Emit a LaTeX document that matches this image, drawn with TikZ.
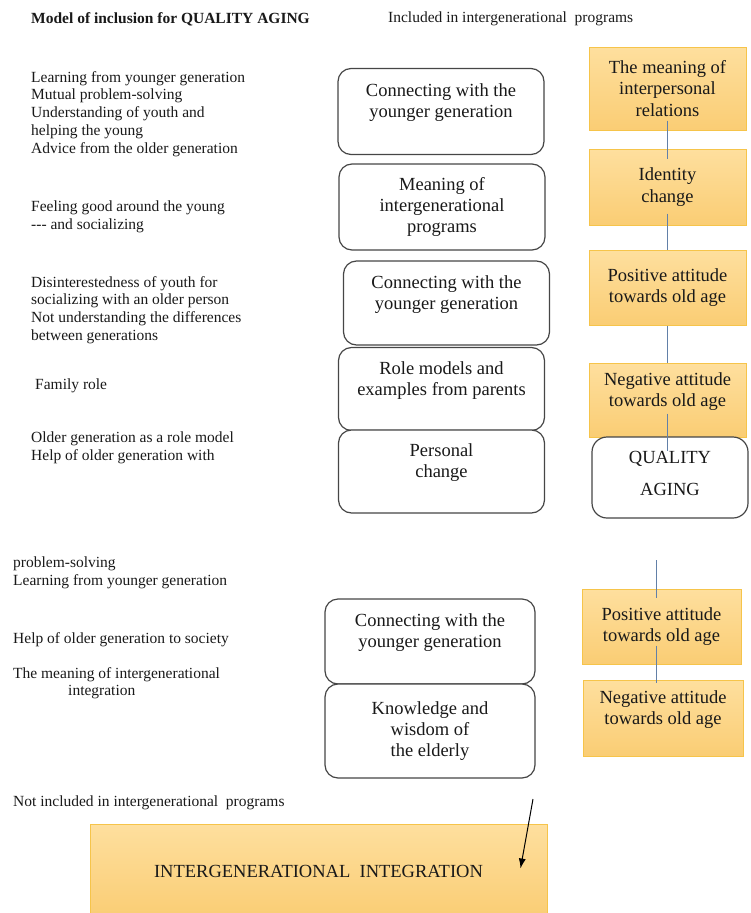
\documentclass[tikz,border=0pt]{standalone}
\usepackage{fontspec}
\setmainfont{Liberation Serif}
\usetikzlibrary{calc,arrows.meta}

\definecolor{ortop}{RGB}{254,223,158}
\definecolor{orbot}{RGB}{250,205,116}
\definecolor{oredge}{RGB}{246,196,74}
\definecolor{boxedge}{RGB}{70,70,70}
\definecolor{linkblue}{RGB}{98,128,168}
\definecolor{ink}{RGB}{25,25,25}

\begin{document}
\begin{tikzpicture}[x=1pt,y=-1pt,
   note/.style={anchor=north west,align=left,inner sep=0pt,text=ink,
                font=\fontsize{15.5}{17.8}\selectfont},
   head/.style={anchor=west,inner sep=0pt,text=ink,
                font=\fontsize{15.5}{18}\selectfont},
   gbox/.style={draw=boxedge,line width=1.2pt,rounded corners=13pt,fill=white,
                align=center,text=ink,minimum width=206pt,minimum height=86pt,
                inner sep=0pt,font=\fontsize{18.5}{21.3}\selectfont},
   obox/.style={draw=oredge,line width=1pt,top color=ortop,bottom color=orbot,
                align=center,text=ink,minimum width=157pt,inner sep=0pt,
                font=\fontsize{18.5}{21.3}\selectfont},
   link/.style={draw=linkblue,line width=1pt}]
  \useasboundingbox (0,0) rectangle (750,913);

  % headings
  \node[head,font=\bfseries\fontsize{15.5}{18}\selectfont] (title) at (31,19)
       {Model of inclusion for QUALITY AGING};
  \node[head] (incl) at (388,19) {Included in intergenerational\ \ programs};

  % left column notes
  \node[note] (na) at (31,71) {Learning from younger generation\\Mutual problem-solving\\
       Understanding of youth and\\helping the young\\Advice from the older generation};
  \node[note] (nb) at (31,201) {Feeling good around the young\\-{}-{}- and socializing};
  \node[note] (nc) at (31,276) {Disinterestedness of youth for\\socializing with an older person\\
       Not understanding the differences\\between generations};
  \node[note] (nd) at (35,379) {Family role};
  \node[note] (ne) at (31,432) {Older generation as a role model\\Help of older generation with};
  \node[note] (nf) at (13,557) {problem-solving\\Learning from younger generation};
  \node[note] (ng) at (13,632) {Help of older generation to society};
  \node[note] (nh) at (13,667) {The meaning of intergenerational\\\hspace*{55pt}integration};
  \node[note] (ni) at (13,796) {Not included in intergenerational\ \ programs};

  % middle column
  \node[gbox] (conn1) at (441,111.5) {Connecting with the\\younger generation\\\mbox{}};
  \node[gbox] (mean) at (442,207) {Meaning of\\intergenerational\\programs};
  \node[gbox,minimum height=84pt] (conn2) at (446.5,303)
       {Connecting with the\\younger generation\\\mbox{}};
  \node[gbox,minimum height=83pt] (role) at (441.5,389)
       {Role models and\\examples from parents\\\mbox{}};
  \node[gbox,minimum height=83pt] (pers) at (441.5,471.5) {Personal\\change\\\mbox{}};
  \node[gbox,minimum width=210pt,minimum height=85pt] (conn3) at (430,641.5)
       {Connecting with the\\younger generation\\\mbox{}};
  \node[gbox,minimum width=210pt,minimum height=94pt] (know) at (430,731)
       {Knowledge and\\wisdom of\\the elderly};

  % right column
  \node[obox,minimum height=83pt] (o1) at (667.5,88.5) {The meaning of\\interpersonal\\relations};
  \node[obox,minimum height=76pt] (o2) at (667.5,187) {Identity\\change};
  \node[obox,minimum height=75pt] (o3) at (667.5,287.5) {Positive attitude\\towards old age};
  \node[obox,minimum height=74pt] (o4) at (667.5,400) {Negative attitude\\towards old age\\\mbox{}};
  \node[gbox,rounded corners=15pt,minimum width=156pt,minimum height=81pt] (qa) at (670,477.5)
       {QUALITY\\[11pt]AGING\\[-13pt]\mbox{}};
  \node[obox,minimum width=159pt,minimum height=75pt] (o5) at (661.5,626.5)
       {Positive attitude\\towards old age};
  \node[obox,minimum width=160pt,minimum height=76pt] (o6) at (663,718)
       {Negative attitude\\towards old age\\\mbox{}};

  % bottom
  \node[obox,minimum width=457pt,minimum height=94pt] (inter) at (318.5,871)
       {INTERGENERATIONAL\ \ INTEGRATION};

  % connectors
  \draw[link] ([yshift=10pt]o1.south) -- ([yshift=-10pt]o2.north);
  \draw[link] ([yshift=12pt]o2.south) -- (o3.north);
  \draw[link] (o3.south) -- (o4.north);
  \draw[link] ([yshift=24pt]o4.south) -- ($(o4.south |- qa.north)+(0,15)$);
  \coordinate (pa) at (656,560);
  \draw[link] (pa) -- ($(pa |- o5.north)+(0,9)$);
  \draw[link] ($(pa |- o5.south)+(0,-19)$) -- ($(pa |- o6.north)+(0,3)$);
  \coordinate (ar) at (533,799);
  \draw[line width=1pt,-{Latex[length=10pt,width=7pt]}] (ar)
       -- ([shift={(-27pt,-45pt)}]inter.north east);
\end{tikzpicture}
\end{document}
